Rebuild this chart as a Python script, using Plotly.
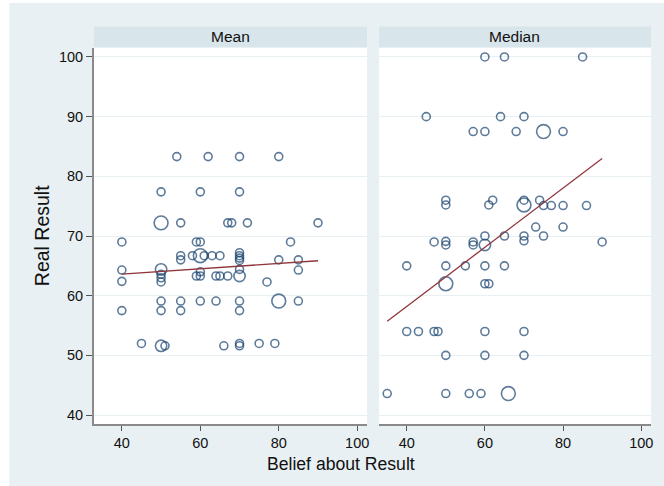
import plotly.graph_objects as go

# ---------------- data ----------------
panel_titles = ["Mean", "Median"]

mean_belief = [54, 62, 70, 80,
               50, 60, 70,
               50, 55, 67, 68, 72, 90,
               40, 59, 60, 83,
               55, 55, 58, 60, 61, 63, 65,
               70, 70, 70, 70, 80, 85,
               40, 50, 85, 70,
               50, 50, 50,
               59, 60, 60,
               64, 65, 67, 70,
               40, 77,
               50, 55, 60, 64, 70, 80, 85,
               40, 50, 55, 70,
               45, 50, 51, 66, 70, 70, 75, 79]
mean_result = [83.3, 83.3, 83.3, 83.3,
               77.4, 77.4, 77.4,
               72.2, 72.2, 72.2, 72.2, 72.2, 72.2,
               69.0, 69.0, 69.0, 69.0,
               66.7, 66.0, 66.7, 66.7, 66.7, 66.7, 66.7,
               67.2, 66.7, 66.3, 65.9, 66.0, 66.0,
               64.3, 64.4, 64.3, 64.4,
               63.6, 63.0, 62.3,
               63.3, 63.3, 64.0,
               63.3, 63.3, 63.3, 63.3,
               62.4, 62.3,
               59.1, 59.1, 59.1, 59.1, 59.1, 59.1, 59.1,
               57.5, 57.5, 57.5, 57.5,
               52.0, 51.6, 51.6, 51.6, 52.0, 51.6, 52.0, 52.0]
mean_weight = [1, 1, 1, 1,
               1, 1, 1,
               3, 1, 1, 1, 1, 1,
               1, 1, 1, 1,
               1, 1, 1, 3, 1, 1, 1,
               1, 1, 1, 1, 1, 1,
               1, 2, 1, 1,
               1, 1, 1,
               1, 1, 1,
               1, 1, 1, 2,
               1, 1,
               1, 1, 1, 1, 1, 3, 1,
               1, 1, 1, 1,
               1, 2, 1, 1, 1, 1, 1, 1]

median_belief = [60, 65, 85,
                 45, 64, 70,
                 57, 60, 68, 75, 80,
                 50, 50, 61, 62, 70, 70, 74, 75, 77, 80, 86,
                 73, 80,
                 60, 65, 70, 75,
                 47, 50, 50, 57, 57, 60, 70, 90,
                 40, 50, 55, 60, 65,
                 50, 60, 61,
                 40, 43, 47, 48, 60, 70,
                 50, 60, 70,
                 35, 50, 56, 59, 66]
median_result = [100, 100, 100,
                 90, 90, 90,
                 87.5, 87.5, 87.5, 87.5, 87.5,
                 76.0, 75.2, 75.2, 76.0, 76.0, 75.2, 76.0, 75.1, 75.1, 75.1, 75.1,
                 71.5, 71.5,
                 70.0, 70.0, 70.0, 70.0,
                 69.0, 69.1, 68.5, 69.0, 68.5, 68.5, 69.2, 69.0,
                 65.0, 65.0, 65.0, 65.0, 65.0,
                 62.0, 62.0, 62.0,
                 54.0, 54.0, 54.0, 54.0, 54.0, 54.0,
                 50.0, 50.0, 50.0,
                 43.6, 43.6, 43.6, 43.6, 43.6]
median_weight = [1, 1, 1,
                 1, 1, 1,
                 1, 1, 1, 3, 1,
                 1, 1, 1, 1, 1, 3, 1, 1, 1, 1, 1,
                 1, 1,
                 1, 1, 1, 1,
                 1, 1, 1, 1, 1, 2, 1, 1,
                 1, 1, 1, 1, 1,
                 3, 1, 1,
                 1, 1, 1, 1, 1, 1,
                 1, 1, 1,
                 1, 1, 1, 1, 3]

# fitted lines (endpoints)
fit_x_mean = [40, 90]
fit_y_mean = [63.6, 65.85]
fit_x_median = [35, 90]
fit_y_median = [55.7, 83.0]

x_ticks = [40, 60, 80, 100]
y_ticks = [40, 50, 60, 70, 80, 90, 100]

x_title = "Belief about Result"
y_title = "Real Result"

# ---------------- styling ----------------
W, H = 664, 486
ML, MR, MT, MB = 94, 11, 48, 62
navy = "#1A4470"
maroon = "#90353B"
bg = "#E8F0F3"
strip = "#D8E5EB"
grid = "#E8F0F3"
font_family = "Liberation Sans, Arial, sans-serif"

pw = W - ML - MR
ph = H - MT - MB
def px_to_paper_x(px):
    return (px - ML) / pw
def px_to_paper_y(py):
    return (H - MB - py) / ph

dom1 = [0, px_to_paper_x(368)]
dom2 = [px_to_paper_x(380), 1]

def sizes(ws):
    return [8 * (w ** 0.5) for w in ws]

fig = go.Figure()

for belief, result, weight, xa in [(mean_belief, mean_result, mean_weight, "x"),
                                   (median_belief, median_result, median_weight, "x2")]:
    fig.add_trace(go.Scatter(
        x=belief, y=result, mode="markers", xaxis=xa, yaxis="y" if xa == "x" else "y2",
        marker=dict(symbol="circle", size=sizes(weight), color="rgba(0,0,0,0)",
                    line=dict(color=navy, width=1.6)),
        showlegend=False, hoverinfo="x+y"))

for fx, fy, xa in [(fit_x_mean, fit_y_mean, "x"), (fit_x_median, fit_y_median, "x2")]:
    fig.add_trace(go.Scatter(
        x=fx, y=fy, mode="lines", xaxis=xa, yaxis="y" if xa == "x" else "y2",
        line=dict(color=maroon, width=1.3), showlegend=False))

xrange = [32.9, 102.5]
yrange = [38.5, 101.5]
tick_font = dict(size=14.5, color="#111111", family=font_family)
common_x = dict(range=xrange, tickvals=x_ticks, showgrid=False, zeroline=False,
                showline=True, linecolor="#8A8A8A", linewidth=1.5,
                ticks="outside", ticklen=5, tickcolor="#555555", tickwidth=1,
                tickfont=tick_font)
fig.update_layout(
    width=W, height=H,
    margin=dict(l=ML, r=MR, t=MT, b=MB),
    paper_bgcolor=bg, plot_bgcolor="white",
    font=dict(family=font_family, color="#111111"),
    xaxis=dict(domain=dom1, anchor="y", **common_x),
    xaxis2=dict(domain=dom2, anchor="y2", **common_x),
    yaxis=dict(range=yrange, tickvals=y_ticks, anchor="x", showgrid=True,
               gridcolor=grid, gridwidth=1, zeroline=False,
               showline=True, linecolor="#8A8A8A", linewidth=2,
               ticks="outside", ticklen=6, tickcolor="#555555", tickwidth=1,
               tickfont=tick_font),
    yaxis2=dict(range=yrange, tickvals=y_ticks, anchor="x2", matches="y",
                showgrid=True, gridcolor=grid, gridwidth=1, zeroline=False,
                showline=False, showticklabels=False, ticks=""),
)

shapes = []
annotations = []
for dom, title in zip([dom1, dom2], panel_titles):
    shapes.append(dict(type="rect", xref="paper", yref="paper",
                       x0=dom[0], x1=dom[1],
                       y0=px_to_paper_y(47), y1=px_to_paper_y(26.5),
                       fillcolor=strip, line=dict(width=0), layer="below"))
    annotations.append(dict(text=title, xref="paper", yref="paper",
                            x=(dom[0] + dom[1]) / 2, y=px_to_paper_y(37),
                            xanchor="center", yanchor="middle", showarrow=False,
                            font=dict(size=15.5, color="#111111", family=font_family)))

# white borders at top/left (outer margin of the original export)
shapes.append(dict(type="rect", xref="paper", yref="paper",
                   x0=px_to_paper_x(-5), x1=px_to_paper_x(9),
                   y0=px_to_paper_y(H + 5), y1=px_to_paper_y(-5),
                   fillcolor="white", line=dict(width=0), layer="below"))
shapes.append(dict(type="rect", xref="paper", yref="paper",
                   x0=px_to_paper_x(-5), x1=px_to_paper_x(W + 5),
                   y0=px_to_paper_y(3), y1=px_to_paper_y(-5),
                   fillcolor="white", line=dict(width=0), layer="below"))

annotations.append(dict(text=x_title, xref="paper", yref="paper",
                        x=px_to_paper_x(342), y=px_to_paper_y(464),
                        xanchor="center", yanchor="middle", showarrow=False,
                        font=dict(size=17.6, color="#111111", family=font_family)))
annotations.append(dict(text=y_title, xref="paper", yref="paper",
                        x=px_to_paper_x(42), y=px_to_paper_y(236),
                        xanchor="center", yanchor="middle", showarrow=False,
                        textangle=-90,
                        font=dict(size=19.5, color="#111111", family=font_family)))

fig.update_layout(shapes=shapes, annotations=annotations)
fig.write_html(
    "out.html",
    config={"displayModeBar": False},
    post_script=("document.body.style.margin='0';"
                 "document.body.style.overflow='hidden';"
                 "document.body.style.background='" + bg + "';"),
)
